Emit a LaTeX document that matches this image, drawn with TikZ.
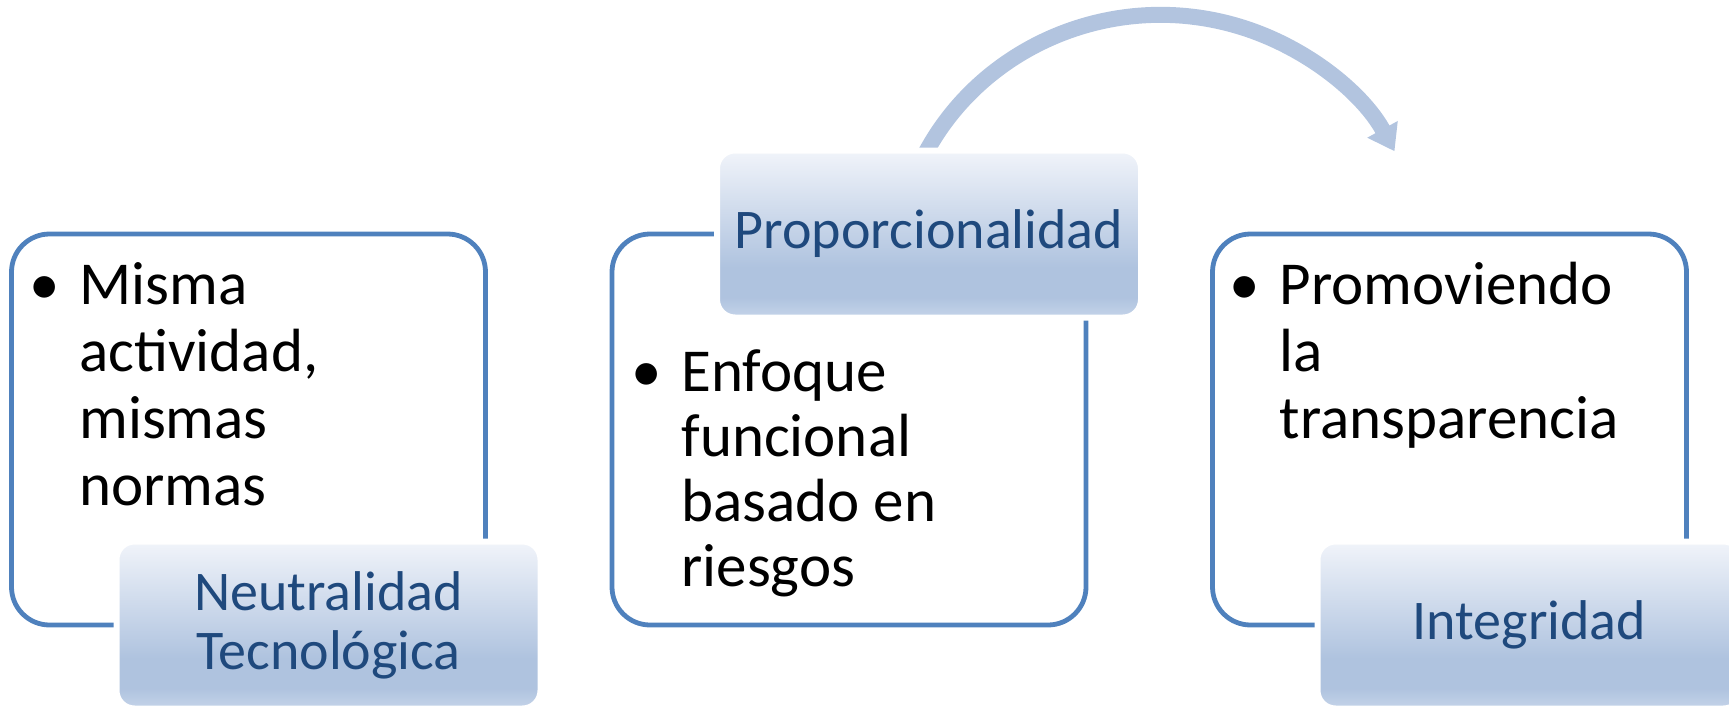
\documentclass[tikz,border=0pt]{standalone}
\usepackage{fontspec}
\setmainfont{Carlito}
\usepackage{tikz}
\usetikzlibrary{arrows.meta,positioning,shapes}
\definecolor{boxblue}{HTML}{4F81BD}
\definecolor{capblue}{HTML}{1F497D}
\definecolor{arcblue}{HTML}{B2C4DF}
\definecolor{capdark}{HTML}{AFC3DF}
\definecolor{caplight}{HTML}{F1F4FA}
\definecolor{capfade}{HTML}{C5D4E9}
\pgfdeclareverticalshading{capshade}{100bp}{color(0bp)=(capfade); color(25bp)=(capfade); color(31bp)=(capdark); color(40bp)=(capdark); color(75bp)=(caplight); color(100bp)=(caplight)}
\pgfdeclarelayer{back}
\pgfsetlayers{back,main}
\newcommand{\bulletmark}{\llap{\makebox[35pt]{\textbullet}}\strut}
\tikzset{%
	panel/.style    = {draw=boxblue, line width=2.4pt, rounded corners=19pt, fill=white, minimum width=237pt, minimum height=195.5pt, inner sep=0pt, outer sep=0pt},
	heading/.style  = {draw=white, line width=3pt, shade, shading=capshade, rounded corners=9pt, minimum width=212pt, minimum height=83.5pt, inner sep=0pt, outer sep=0pt, text=capblue, align=center, font=\fontsize{28pt}{29.5pt}\selectfont}, % title tab
	bullets/.style  = {align=left, inner sep=0pt, anchor=north west, font=\fontsize{30.5pt}{33.5pt}\selectfont},
	bigarrow/.style = {draw=arcblue, line width=8pt, -{Triangle[width=16.5pt,length=12.5pt]}},
}
\begin{document}
\begin{tikzpicture}[node distance=300.25pt]
	\useasboundingbox (0,0) rectangle (864.5pt,-353.5pt);
	\node [panel] (pn) at (124.25pt,-214.75pt) {};
	\node [panel] (pp) [right of=pn] {};
	\node [panel] (pi) [right of=pp] {};
	\node [heading] (hn) at ([xshift=40pt]pn.south) {Neutralidad\\Tecnológica};
	\node [heading] (hp) at ([xshift=40pt]pp.north) {Proporcionalidad};
	\node [heading] (hi) at ([xshift=40pt]pi.south) {Integridad};
	\node [bullets] (bn) at ([xshift=33.75pt,yshift=-11.8pt]pn.north west) {\bulletmark Misma\\actividad,\\mismas\\normas};
	\node [bullets,font=\fontsize{30.5pt}{32.5pt}\selectfont] (bp) at ([xshift=34.5pt,yshift=-55.75pt]pp.north west) {\bulletmark Enfoque\\funcional\\basado en\\riesgos};
	\node [bullets] (bi) at ([xshift=33.5pt,yshift=-11.8pt]pi.north west) {\bulletmark Promoviendo\\la\\transparencia};
	
	\begin{pgfonlayer}{back}
		\draw[bigarrow] ([xshift=-8.75pt,yshift=25pt]hp.center) arc[start angle=160, end angle=28, x radius=132.5pt, y radius=128.5pt];
	\end{pgfonlayer}
\end{tikzpicture}
\end{document}
